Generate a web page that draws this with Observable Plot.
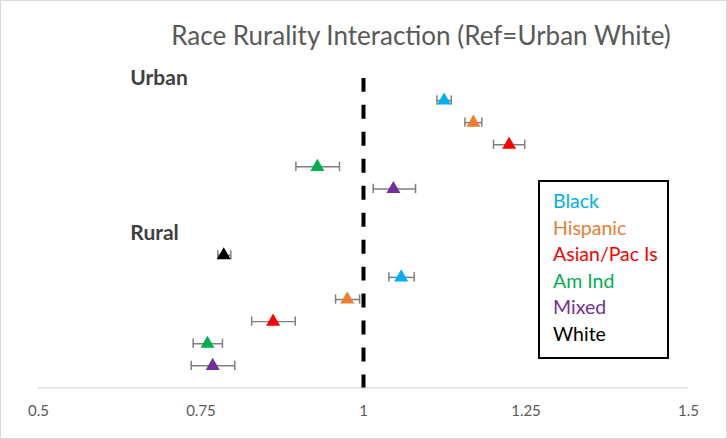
<!DOCTYPE html>
<html>
<head>
<meta charset="utf-8">
<script src="https://cdn.jsdelivr.net/npm/d3@7"></script>
<script src="https://cdn.jsdelivr.net/npm/@observablehq/plot@0.6"></script>
<style>
  html, body { margin: 0; padding: 0; background: #fff; }
  #wrap { position: relative; width: 727px; height: 439px; box-sizing: border-box; border: 1px solid #d9d9d9; overflow: hidden; font-family: Lato, "Open Sans", sans-serif; }
  #title { position: absolute; left: 0; width: 840px; top: 18px; text-align: center; font-size: 26px; color: #595959; white-space: nowrap; }
  #legend { position: absolute; left: 537px; top: 179px; width: 131px; height: 179px; box-sizing: border-box; border: 2px solid #000; padding: 6px 0 0 13px; }
  #legend div { font-size: 19.5px; line-height: 26.6px; white-space: nowrap; }
  #chart { position: absolute; left: -1px; top: -1px; }
</style>
</head>
<body>
<div id="wrap">
  <div id="chart"></div>
  <div id="title">Race Rurality Interaction (Ref=Urban White)</div>
  <div id="legend"></div>
</div>
<script>
// Groups and series
const races = ["Black", "Hispanic", "Asian/Pac Is", "Am Ind", "Mixed", "White"];
const raceColors = ["#00b0f0", "#ed7d31", "#ff0000", "#00b050", "#7030a0", "#000000"];
const groupLabels = ["Urban", "Rural"];
const groupLabelRows = [-1, 6];

// Urban estimates (rows 0..4)
const urbanRace = ["Black", "Hispanic", "Asian/Pac Is", "Am Ind", "Mixed"];
const urbanRow = [0, 1, 2, 3, 4];
const urbanEst = [1.124, 1.169, 1.224, 0.929, 1.046];
const urbanLo  = [1.113, 1.156, 1.200, 0.896, 1.015];
const urbanHi  = [1.135, 1.182, 1.248, 0.963, 1.080];

// Rural estimates (rows 7..12)
const ruralRace = ["White", "Black", "Hispanic", "Asian/Pac Is", "Am Ind", "Mixed"];
const ruralRow = [7, 8, 9, 10, 11, 12];
const ruralEst = [0.785, 1.058, 0.975, 0.861, 0.760, 0.768];
const ruralLo  = [0.776, 1.039, 0.957, 0.828, 0.738, 0.735];
const ruralHi  = [0.796, 1.078, 0.994, 0.895, 0.783, 0.802];

const xTicks = [0.5, 0.75, 1, 1.25, 1.5];
const refValue = 1;

const rows = [
  ...urbanRace.map((r, i) => ({race: r, row: urbanRow[i], est: urbanEst[i], lo: urbanLo[i], hi: urbanHi[i]})),
  ...ruralRace.map((r, i) => ({race: r, row: ruralRow[i], est: ruralEst[i], lo: ruralLo[i], hi: ruralHi[i]}))
];
const labels = groupLabels.map((g, i) => ({label: g, row: groupLabelRows[i]}));

const capHalf = 0.21;
const errColor = "#7f7f7f";

const chart = Plot.plot({
  width: 727,
  height: 439,
  marginTop: 78,
  marginBottom: 51,
  marginLeft: 38,
  marginRight: 38,
  style: {fontFamily: "Lato, 'Open Sans', sans-serif", background: "transparent"},
  x: {domain: [0.5, 1.5]},
  y: {domain: [-1, 13], reverse: true, axis: null},
  color: {domain: races, range: raceColors},
  marks: [
    Plot.ruleY([13], {stroke: "#d9d9d9", strokeWidth: 1.2}),
    Plot.axisX({ticks: xTicks, tickFormat: d => String(d), tickSize: 0, tickPadding: 17, fontSize: 15, color: "#595959", label: null}),
    Plot.ruleX([refValue], {y1: -1, y2: 13, stroke: "#000", strokeWidth: 4, strokeDasharray: "14,13"}),
    Plot.ruleY(rows, {y: "row", x1: "lo", x2: "hi", stroke: errColor, strokeWidth: 1.5}),
    Plot.ruleX(rows, {x: "lo", y1: d => d.row - capHalf, y2: d => d.row + capHalf, stroke: errColor, strokeWidth: 1.5}),
    Plot.ruleX(rows, {x: "hi", y1: d => d.row - capHalf, y2: d => d.row + capHalf, stroke: errColor, strokeWidth: 1.5}),
    Plot.dot(rows, {x: "est", y: "row", symbol: "triangle", r: 5.2, fill: "race", stroke: null}),
    Plot.text(labels, {y: "row", text: "label", frameAnchor: "left", dx: 92, textAnchor: "start", fontSize: 21, fontWeight: "bold", fill: "#404040"})
  ]
});
document.getElementById("chart").appendChild(chart);

const legend = document.getElementById("legend");
races.forEach((r, i) => {
  const d = document.createElement("div");
  d.textContent = r;
  d.style.color = raceColors[i];
  legend.appendChild(d);
});
</script>
</body>
</html>
